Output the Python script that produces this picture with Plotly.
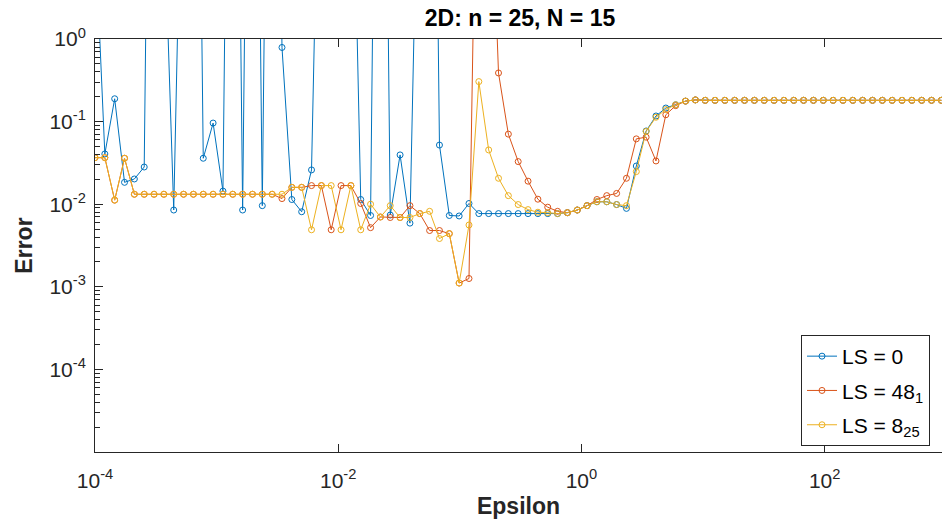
import numpy as np
import plotly.graph_objects as go

# Shape-parameter sweep (log-spaced epsilon grid)
epsilon = np.logspace(-4, 2.96, 87)

# Error for each least-squares setting; very large values (ill-conditioned
# solves) run off the top of the axes.
err_ls0 = [
    21, 0.0406, 0.189, 0.0184, 0.0202, 0.0282, 1e9, 40, 0.0085, 1e9,
    1e9, 0.036, 0.096, 0.0144, 1e9, 0.0085, 1e9, 0.0096, 1e9, 0.79,
    0.0114, 0.0081, 0.026, 1e4, 1e9, 1e9, 3200, 0.0114, 0.0073, 1e9,
    0.0074, 0.0395, 0.0059, 26, 1e9, 0.052, 0.0073, 0.0072, 0.0102, 0.0077,
    0.0077, 0.0077, 0.0077, 0.0077, 0.0077, 0.0077, 0.0077, 0.0077, 0.0079, 0.0085,
    0.0096, 0.0107, 0.0107, 0.0099, 0.0089, 0.029, 0.077, 0.117, 0.146, 0.16,
    0.177, 0.183, 0.181, 0.181, 0.181, 0.181, 0.181, 0.181, 0.181, 0.181,
    0.181, 0.181, 0.181, 0.181, 0.181, 0.181, 0.181, 0.181, 0.181, 0.181,
    0.181, 0.181, 0.181, 0.181, 0.181, 0.181, 0.181,
]

err_ls48 = [
    0.0366, 0.0366, 0.0112, 0.036, 0.0132, 0.0132, 0.0132, 0.0132, 0.0132, 0.0132,
    0.0132, 0.0132, 0.0132, 0.0132, 0.0132, 0.0132, 0.0132, 0.0132, 0.0132, 0.0117,
    0.016, 0.016, 0.0168, 0.0168, 0.0049, 0.0168, 0.0168, 0.0102, 0.0052, 0.0070,
    0.0069, 0.0069, 0.0096, 0.0077, 0.0048, 0.0048, 0.0044, 0.00111, 0.00126, 2e4,
    630, 0.388, 0.0705, 0.0328, 0.019, 0.0115, 0.0092, 0.0082, 0.0079, 0.0085,
    0.0096, 0.0114, 0.0127, 0.0135, 0.0206, 0.0618, 0.0648, 0.0334, 0.121, 0.156,
    0.177, 0.183, 0.181, 0.181, 0.181, 0.181, 0.181, 0.181, 0.181, 0.181,
    0.181, 0.181, 0.181, 0.181, 0.181, 0.181, 0.181, 0.181, 0.181, 0.181,
    0.181, 0.181, 0.181, 0.181, 0.181, 0.181, 0.181,
]

err_ls8 = [
    0.0366, 0.0366, 0.0112, 0.036, 0.0132, 0.0132, 0.0132, 0.0132, 0.0132, 0.0132,
    0.0132, 0.0132, 0.0132, 0.0132, 0.0132, 0.0132, 0.0132, 0.0132, 0.0132, 0.0132,
    0.016, 0.016, 0.0049, 0.0168, 0.0168, 0.0049, 0.0168, 0.0049, 0.0100, 0.0070,
    0.0096, 0.0069, 0.0069, 0.0077, 0.0082, 0.00384, 0.0044, 0.00111, 0.0056, 0.305,
    0.0454, 0.0206, 0.0127, 0.0099, 0.0086, 0.0080, 0.0079, 0.0077, 0.0079, 0.0085,
    0.0096, 0.0107, 0.0107, 0.0099, 0.0096, 0.0248, 0.076, 0.113, 0.14, 0.16,
    0.177, 0.183, 0.181, 0.181, 0.181, 0.181, 0.181, 0.181, 0.181, 0.181,
    0.181, 0.181, 0.181, 0.181, 0.181, 0.181, 0.181, 0.181, 0.181, 0.181,
    0.181, 0.181, 0.181, 0.181, 0.181, 0.181, 0.181,
]

series_names = ["LS = 0", "LS = 48<sub>1</sub>", "LS = 8<sub>25</sub>"]
series_colors = ["#0072BD", "#D95319", "#EDB120"]

x_tickvals = [1e-4, 1e-2, 1e0, 1e2]
x_ticktext = ["10<sup>-4</sup>", "10<sup>-2</sup>", "10<sup>0</sup>", "10<sup>2</sup>"]
y_tickvals = [1e-4, 1e-3, 1e-2, 1e-1, 1e0]
y_ticktext = ["10<sup>-4</sup>", "10<sup>-3</sup>", "10<sup>-2</sup>", "10<sup>-1</sup>", "10<sup>0</sup>"]
y_minor = [m * 10.0 ** e for e in range(-5, 0) for m in range(2, 10)]

FONT = "Liberation Sans, Arial, Helvetica, sans-serif"
AXIS = "#262626"

fig = go.Figure()
for i, (ys, name, color) in enumerate(zip([err_ls0, err_ls48, err_ls8], series_names, series_colors)):
    fig.add_trace(go.Scatter(
        x=epsilon, y=ys, name=name, mode="lines+markers", legendgroup=f"g{i}",
        line=dict(color=color, width=1),
        marker=dict(symbol="circle-open", size=6, color=color, line=dict(width=1, color=color)),
    ))

fig.update_layout(
    width=942, height=524,
    margin=dict(l=95, r=0, t=39, b=72),
    plot_bgcolor="white", paper_bgcolor="white",
    font=dict(family=FONT, size=21, color=AXIS),
    title=dict(text="<b>2D: n = 25, N = 15</b>", font=dict(size=23, color="black"),
               x=520 / 942, xanchor="center", y=1 - 18 / 524, yanchor="middle"),
    legend=dict(x=(801 - 95) / 847, y=(452 - 335) / 413, xanchor="left", yanchor="top",
                bordercolor=AXIS, borderwidth=1, bgcolor="white",
                font=dict(size=21, color="black"), tracegroupgap=4, itemwidth=30),
    xaxis=dict(type="log", range=[-4, 2.965], tickvals=x_tickvals, ticktext=x_ticktext,
               ticks="inside", ticklen=8, tickcolor=AXIS, showline=True, linecolor=AXIS,
               linewidth=1, mirror="ticks", showgrid=False, zeroline=False,
               ticklabelstandoff=10,
               title=dict(text="<b>Epsilon</b>", font=dict(size=23, color=AXIS), standoff=6)),
    yaxis=dict(type="log", range=[-5, 0], tickvals=y_tickvals, ticktext=y_ticktext,
               ticks="inside", ticklen=8, tickcolor=AXIS, showline=True, linecolor=AXIS,
               linewidth=1, mirror=False, showgrid=False, zeroline=False,
               ticklabelstandoff=4,
               minor=dict(tickvals=y_minor, ticks="inside", ticklen=5, tickcolor=AXIS),
               title=dict(text="<b>Error</b>", font=dict(size=23, color=AXIS), standoff=10)),
)

fig.write_html("out.html")
